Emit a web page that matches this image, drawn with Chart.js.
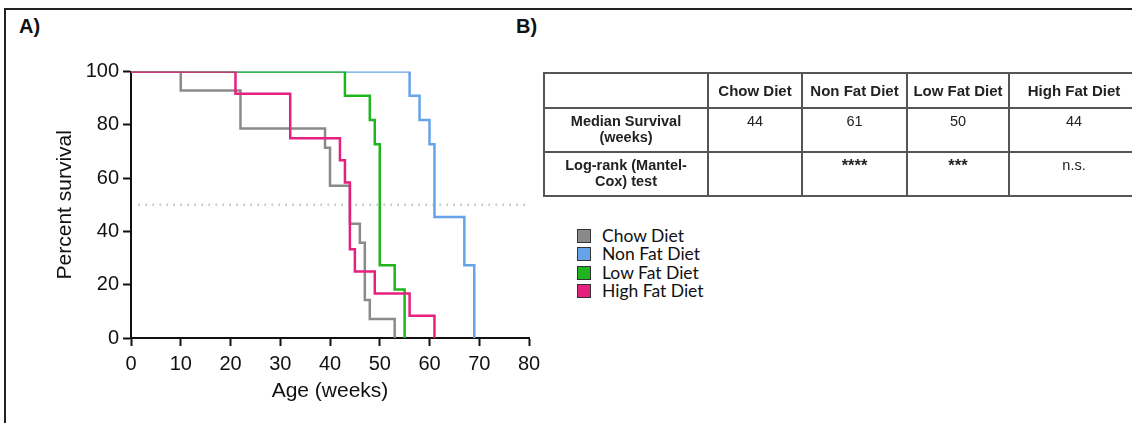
<!DOCTYPE html>
<html>
<head>
<meta charset="utf-8">
<script src="https://cdn.jsdelivr.net/npm/chart.js@4.4.1/dist/chart.umd.min.js"></script>
<style>
    html, body { margin: 0; padding: 0; background: #fff; }
    body { width: 1132px; height: 423px; position: relative; overflow: hidden; font-family: "Liberation Sans", Arial, sans-serif; }
    #frame { position: absolute; left: 4px; top: 8px; width: 1200px; height: 500px; border-left: 2px solid #222; border-top: 2px solid #222; }
    .panel { position: absolute; font-weight: bold; font-size: 20px; line-height: 1; color: #111; font-family: "Liberation Sans", Arial, sans-serif; }
    #chart { position: absolute; left: 0; top: 0; }
    #stats { position: absolute; left: 543px; top: 72px; border-collapse: collapse; table-layout: fixed; width: 595px; color: #222; font-size: 14.5px; font-family: "Liberation Sans", Arial, sans-serif; }
    #stats td { border: 2px solid #555; text-align: center; padding: 0 4px; line-height: 16px; }
    #stats tr.head td { height: 33px; vertical-align: middle; font-weight: bold; font-size: 15px; }
    #stats tr.body td { height: 38px; vertical-align: top; padding-top: 4px; }
    #stats td.rowname { font-weight: bold; }
    #stats td.stars { font-weight: bold; font-size: 16.5px; }
    #legend { position: absolute; left: 577px; top: 227px; font-family: Lato, "Noto Sans", sans-serif; font-size: 17.5px; color: #111; }
    #legend div { height: 18.3px; line-height: 18.3px; white-space: nowrap; }
    #legend span.box { display: inline-block; width: 12px; height: 12px; border: 1.5px solid #333; vertical-align: -1px; margin-right: 11px; }
</style>
</head>
<body>
<div id="frame"></div>
<div class="panel" style="left:19px; top:16px;">A)</div>
<div class="panel" style="left:516px; top:16px;">B)</div>
<canvas id="chart" width="560" height="423"></canvas>

<table id="stats">
    <colgroup>
        <col style="width:164px"><col style="width:94px"><col style="width:105px"><col style="width:102px"><col style="width:130px">
    </colgroup>
    <tr class="head"><td></td><td>Chow Diet</td><td>Non Fat Diet</td><td>Low Fat Diet</td><td>High Fat Diet</td></tr>
    <tr class="body"><td class="rowname">Median Survival<br>(weeks)</td><td id="m0"></td><td id="m1"></td><td id="m2"></td><td id="m3"></td></tr>
    <tr class="body"><td class="rowname">Log-rank (Mantel-<br>Cox) test</td><td id="s0"></td><td id="s1"></td><td id="s2"></td><td id="s3"></td></tr>
</table>

<div id="legend"></div>

<script>
// Kaplan-Meier steps: week of each event and survival (%) after it
const groups = ['Chow Diet', 'Non Fat Diet', 'Low Fat Diet', 'High Fat Diet'];
const groupColors = ['#8a8a8a', '#66a3e8', '#1fb51f', '#e6207e'];

const chowWeeks = [0, 10, 22, 39, 40, 44, 46, 47, 48, 53];
const chowSurvival = [100, 92.86, 78.57, 71.43, 57.14, 42.86, 35.71, 14.29, 7.14, 0];

const nonFatWeeks = [0, 56, 58, 60, 61, 67, 69];
const nonFatSurvival = [100, 90.91, 81.82, 72.73, 45.45, 27.27, 0];

const lowFatWeeks = [0, 43, 48, 49, 50, 53, 55];
const lowFatSurvival = [100, 90.91, 81.82, 72.73, 27.27, 18.18, 0];

const highFatWeeks = [0, 21, 32, 42, 43, 44, 45, 49, 56, 61];
const highFatSurvival = [100, 91.67, 75, 66.67, 58.33, 33.33, 25, 16.67, 8.33, 0];

const medianSurvival = ['44', '61', '50', '44'];
const logRankResult = ['', '****', '***', 'n.s.'];

const xTicks = [0, 10, 20, 30, 40, 50, 60, 70, 80];
const yTicks = [0, 20, 40, 60, 80, 100];
const medianLine = [[1.5, 50], [80, 50]];

function toPoints(xs, ys) {
    return xs.map(function(x, i) { return { x: x, y: ys[i] }; });
}

function stepSet(label, xs, ys, color) {
    return {
        label: label,
        data: toPoints(xs, ys),
        borderColor: color,
        borderWidth: 2.5,
        stepped: true,
        pointRadius: 0,
        fill: false
    };
}

// table cells
medianSurvival.forEach(function(v, i) { document.getElementById('m' + i).textContent = v; });
logRankResult.forEach(function(v, i) {
    const cell = document.getElementById('s' + i);
    cell.textContent = v;
    if (v.indexOf('*') >= 0) cell.className = 'stars';
});

// legend
const legend = document.getElementById('legend');
groups.forEach(function(name, i) {
    const row = document.createElement('div');
    row.innerHTML = '<span class="box" style="background:' + groupColors[i] + '"></span>' + name;
    legend.appendChild(row);
});

const tickFont = { family: '"Liberation Sans", Arial, sans-serif', size: 20 };
const titleFont = { family: '"Liberation Sans", Arial, sans-serif', size: 21 };

new Chart(document.getElementById('chart'), {
    type: 'line',
    data: {
        datasets: [
            stepSet(groups[3], highFatWeeks, highFatSurvival, groupColors[3]),
            stepSet(groups[0], chowWeeks, chowSurvival, groupColors[0]),
            stepSet(groups[2], lowFatWeeks, lowFatSurvival, groupColors[2]),
            stepSet(groups[1], nonFatWeeks, nonFatSurvival, groupColors[1]),
            {
                label: 'median',
                data: medianLine.map(function(p) { return { x: p[0], y: p[1] }; }),
                borderColor: '#c4c4c4',
                borderWidth: 2.5,
                borderDash: [1.5, 5.5],
                pointRadius: 0
            }
        ]
    },
    options: {
        responsive: false,
        animation: false,
        layout: { padding: { left: 0, right: 31, top: 71.5, bottom: 0 } },
        plugins: { legend: { display: false }, tooltip: { enabled: false } },
        scales: {
            x: {
                type: 'linear',
                min: 0,
                max: 80,
                afterFit: function(scale) { scale.height = 85; },
                afterBuildTicks: function(scale) { scale.ticks = xTicks.map(function(v) { return { value: v }; }); },
                border: { display: true, color: '#111', width: 2 },
                grid: { drawOnChartArea: false, drawTicks: true, tickLength: 8, tickWidth: 2, tickColor: '#111' },
                ticks: { font: tickFont, color: '#111', padding: 6, maxRotation: 0 },
                title: { display: true, text: 'Age (weeks)', font: titleFont, color: '#111', padding: { top: 0, bottom: 19 } }
            },
            y: {
                min: 0,
                max: 100,
                afterFit: function(scale) { scale.width = 131; },
                afterBuildTicks: function(scale) { scale.ticks = yTicks.map(function(v) { return { value: v }; }); },
                border: { display: true, color: '#111', width: 2 },
                grid: { drawOnChartArea: false, drawTicks: true, tickLength: 8, tickWidth: 2, tickColor: '#111' },
                ticks: { font: tickFont, color: '#111', padding: 4 },
                title: { display: true, text: 'Percent survival', font: titleFont, color: '#111', padding: { top: 53, bottom: 0 } }
            }
        }
    }
});
</script>
</body>
</html>
